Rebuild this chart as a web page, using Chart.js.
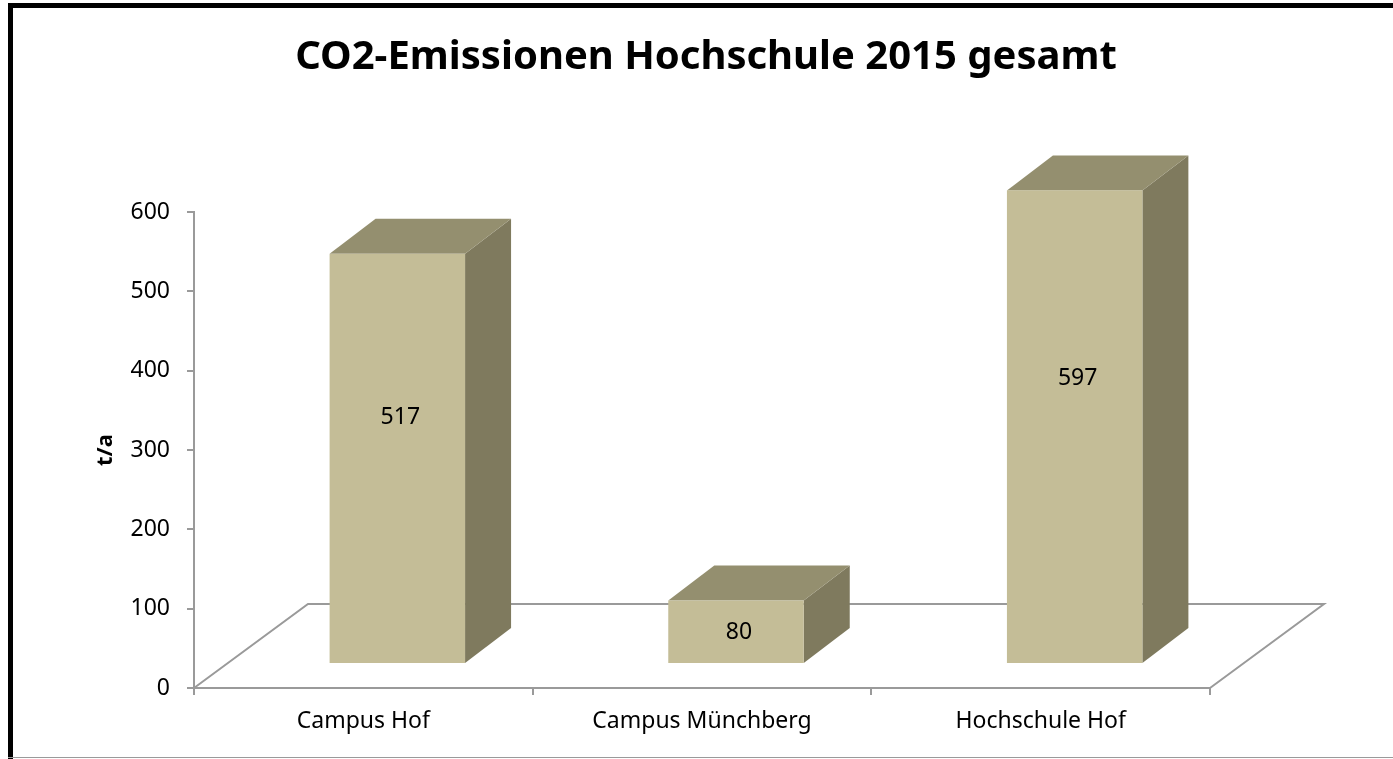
<!DOCTYPE html>
<html>
<head>
<meta charset="utf-8">
<title>CO2-Emissionen Hochschule 2015 gesamt</title>
<script src="https://cdn.jsdelivr.net/npm/chart.js@4.4.1/dist/chart.umd.min.js"></script>
<style>
    body { margin: 0; background: #ffffff; }
    #chartContainer { width: 1393px; height: 759px; position: relative; }
</style>
</head>
<body>
<div id="chartContainer"><canvas id="chart"></canvas></div>
<script>
// Daten
const categories = ["Campus Hof", "Campus Münchberg", "Hochschule Hof"];
const emissionValues = [517, 80, 597];
const yTickValues = [0, 100, 200, 300, 400, 500, 600];

const titleText = "CO2-Emissionen Hochschule 2015 gesamt";
const yAxisTitle = "t/a";

// Farben
const frontColor = '#c4bd97';
const topColor = '#948f6f';
const sideColor = '#7f7a5e';
const lineColor = '#9a9a9a';
const fontFamily = "'Noto Sans', sans-serif";

// 3D-Versatz
const floorDx = 114, floorDy = -84;
const barShiftX = 34, barShiftY = -24;
const depthDx = 46, depthDy = -35;

// Rahmen wie im Original
const framePlugin = {
    id: 'frame',
    afterDraw(chart) {
        const ctx = chart.ctx;
        ctx.save();
        ctx.fillStyle = '#000000';
        ctx.fillRect(8, 3, 5, chart.height - 3);
        ctx.fillRect(8, 3, chart.width - 8, 5);
        ctx.fillStyle = '#9a9a9a';
        ctx.fillRect(8, chart.height - 2, chart.width - 8, 1);
        ctx.restore();
    }
};

// Boden und 3D-Säulen
const threeDPlugin = {
    id: 'threeD',
    beforeDatasetsDraw(chart) {
        const ctx = chart.ctx;
        const a = chart.chartArea;
        ctx.save();
        ctx.strokeStyle = lineColor;
        ctx.lineWidth = 2;
        ctx.beginPath();
        ctx.moveTo(a.left, a.bottom);
        ctx.lineTo(a.left + floorDx, a.bottom + floorDy);
        ctx.lineTo(a.right + floorDx, a.bottom + floorDy);
        ctx.lineTo(a.right, a.bottom);
        ctx.stroke();
        ctx.restore();
    },
    afterDatasetsDraw(chart) {
        const ctx = chart.ctx;
        const meta = chart.getDatasetMeta(0);
        ctx.save();
        meta.data.forEach(function (bar, i) {
            const p = bar.getProps(['x', 'y', 'base', 'width'], true);
            const l = p.x - p.width / 2 + barShiftX;
            const r = l + p.width;
            const t = p.y + barShiftY;
            const b = p.base + barShiftY;

            // Seitenfläche
            ctx.fillStyle = sideColor;
            ctx.beginPath();
            ctx.moveTo(r, t);
            ctx.lineTo(r + depthDx, t + depthDy);
            ctx.lineTo(r + depthDx, b + depthDy);
            ctx.lineTo(r, b);
            ctx.closePath();
            ctx.fill();

            // Deckfläche
            ctx.fillStyle = topColor;
            ctx.beginPath();
            ctx.moveTo(l, t);
            ctx.lineTo(l + depthDx, t + depthDy);
            ctx.lineTo(r + depthDx, t + depthDy);
            ctx.lineTo(r, t);
            ctx.closePath();
            ctx.fill();

            // Vorderseite
            ctx.fillStyle = frontColor;
            ctx.fillRect(l, t, r - l, b - t);

            // Wert
            ctx.fillStyle = '#000000';
            ctx.font = "23px " + fontFamily;
            ctx.textAlign = 'center';
            ctx.textBaseline = 'middle';
            ctx.fillText(String(emissionValues[i]), (l + r) / 2 + 3, b - (b - t) * 0.62 + 8);
        });
        ctx.restore();
    }
};

const data = {
    labels: categories,
    datasets: [{
        label: "CO2-Emissionen",
        data: emissionValues,
        backgroundColor: 'rgba(0,0,0,0)',
        borderWidth: 0,
        barPercentage: 0.4,
        categoryPercentage: 1.0
    }]
};

const config = {
    type: 'bar',
    data: data,
    plugins: [threeDPlugin, framePlugin],
    options: {
        responsive: true,
        maintainAspectRatio: false,
        animation: false,
        layout: { padding: { left: 19, right: 0, top: 0, bottom: 0 } },
        plugins: {
            legend: { display: false },
            tooltip: { enabled: false },
            title: {
                display: true,
                text: titleText,
                color: '#000000',
                font: { family: fontFamily, size: 40, weight: 'bold' },
                padding: { top: 34, bottom: 130 }
            }
        },
        scales: {
            x: {
                type: 'category',
                grid: { display: true, drawOnChartArea: false, drawTicks: true, tickLength: 7, color: lineColor, lineWidth: 2 },
                border: { display: true, color: lineColor, width: 2 },
                ticks: { color: '#000000', font: { family: fontFamily, size: 23 }, padding: 13, maxRotation: 0 },
                afterFit: function (scale) { scale.height = 71; }
            },
            y: {
                type: 'linear',
                min: 0,
                max: 600,
                afterBuildTicks: function (scale) {
                    scale.ticks = yTickValues.map(function (v) { return { value: v }; });
                },
                grid: { display: true, drawOnChartArea: false, drawTicks: true, tickLength: 7, color: lineColor, lineWidth: 2 },
                border: { display: true, color: lineColor, width: 2 },
                ticks: { color: '#000000', font: { family: fontFamily, size: 23 }, padding: 17 },
                title: {
                    display: true,
                    text: yAxisTitle,
                    color: '#000000',
                    font: { family: fontFamily, size: 22, weight: 'bold' },
                    padding: { top: 74, bottom: 0 }
                },
                afterFit: function (scale) { scale.width = 175; }
            },
            y2: {
                type: 'linear',
                position: 'right',
                display: true,
                grid: { display: false },
                border: { display: false },
                ticks: { display: false },
                afterFit: function (scale) { scale.width = 183; }
            }
        }
    }
};

new Chart(document.getElementById('chart'), config);
</script>
</body>
</html>
